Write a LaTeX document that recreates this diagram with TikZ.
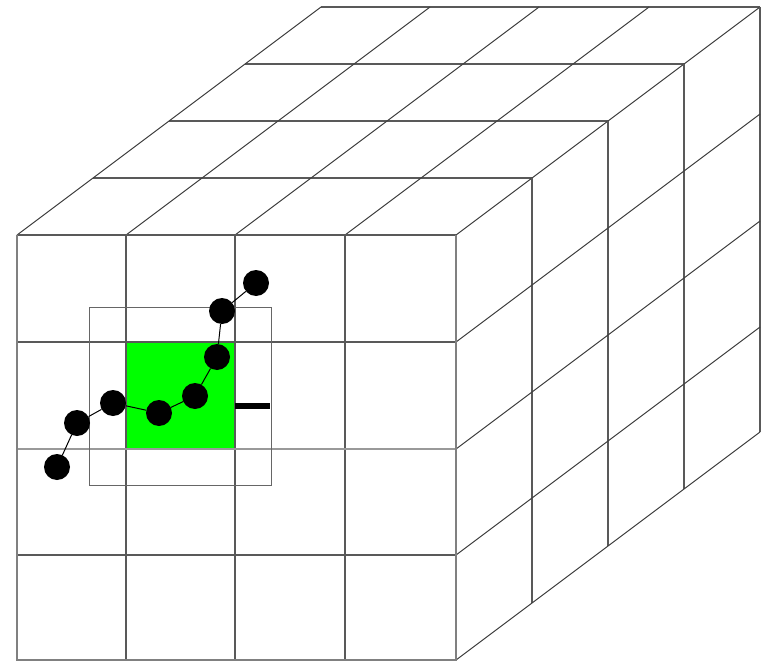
\documentclass[tikz,border=0pt]{standalone}
\begin{document}
\begin{tikzpicture}[x=1pt,y=-1pt,
  gridline/.style={draw=black!65,line width=1.1pt},
  edgeline/.style={draw=black!50,line width=2pt},
  depthline/.style={draw=black!75,line width=1pt},
  dot/.style={circle,fill=black,inner sep=0pt,minimum size=26pt},
  link/.style={draw=black,line width=1pt},
  box/.style={draw=black!60,line width=1pt}]
\useasboundingbox (0,0) rectangle (765,663);
% green cell
\fill[green] (126,342) rectangle (235,449);
% top face horizontals
\foreach \k in {1,2,3,4} {
  \draw[gridline] ({17+76*\k},{235-57*\k}) -- ({456+76*\k},{235-57*\k});
}
% top face diagonals
\foreach \x in {17,126,235,345,456} {
  \draw[depthline] (\x,235) -- ({\x+304},7);
}
% right face verticals
\foreach \k in {1,2,3,4} {
  \draw[gridline] ({456+76*\k},{235-57*\k}) -- ({456+76*\k},{660-57*\k});
}
% right face diagonals
\foreach \y in {342,449,555,660} {
  \draw[depthline] (456,\y) -- (760,{\y-228});
}
% front face grid
\foreach \x in {126,235,345} {
  \draw[gridline] (\x,235) -- (\x,660);
}
\foreach \y in {342,555} {
  \draw[gridline] (17,\y) -- (456,\y);
}
\draw[edgeline,draw=black!40] (17,449) -- (456,449);
\draw[gridline] (17,235) -- (456,235);
\draw[edgeline] (17,235) -- (17,660) -- (456,660) -- (456,235);
% inner box
\draw[box] (89,307) rectangle (271,485);
% bar
\draw[line width=6pt] (235,406) -- (270,406);
% chain
\node[dot] (d1) at (57,467) {};
\node[dot] (d2) at (77,423) {};
\node[dot] (d3) at (113,403) {};
\node[dot] (d4) at (159,413) {};
\node[dot] (d5) at (195,396) {};
\node[dot] (d6) at (217,357) {};
\node[dot] (d7) at (222,311) {};
\node[dot] (d8) at (256,283) {};
\draw[link] (d1) -- (d2) -- (d3) -- (d4) -- (d5) -- (d6) -- (d7) -- (d8);
\end{tikzpicture}
\end{document}
